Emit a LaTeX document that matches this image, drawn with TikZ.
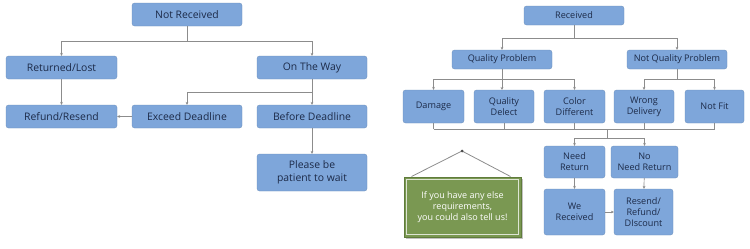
\documentclass[tikz,border=0pt]{standalone}
\usepackage{fontspec}
\setmainfont{Open Sans}
\usetikzlibrary{arrows.meta,shadows}
\definecolor{boxblue}{RGB}{126,166,218}
\definecolor{boxtext}{RGB}{28,42,72}
\definecolor{linegray}{RGB}{140,140,140}
\definecolor{notegreen}{RGB}{122,152,82}
\definecolor{noteedge}{RGB}{96,124,60}

\begin{document}
\begin{tikzpicture}[x=1pt,y=-1pt,
  box/.style={fill=boxblue,draw=boxblue!85!black,line width=0.3pt,rounded corners=2.5pt,
    text=boxtext,align=center,inner sep=0pt,font=\fontsize{10.4}{12.5}\selectfont},
  rbox/.style={box,font=\fontsize{9.1}{11}\selectfont},
  link/.style={draw=linegray,line width=0.7pt},
  arr/.style={link,-{Stealth[length=3pt,width=2.8pt]}}]
\useasboundingbox (0,0) rectangle (750,249);

% Not received
\node[box,minimum width=110,minimum height=23] (notrec) at (187,14.5) {Not Received};
\node[box,minimum width=111,minimum height=23] (retlost) at (61.5,67.5) {Returned/Lost};
\node[box,minimum width=110,minimum height=23] (onway) at (312,67.5) {On The Way};
\node[box,minimum width=111,minimum height=23] (refres) at (61.5,116.5) {Refund/Resend};
\node[box,minimum width=110,minimum height=23] (exceed) at (187,116.5) {Exceed Deadline};
\node[box,minimum width=110,minimum height=23] (before) at (312,116.5) {Before Deadline};
\node[box,minimum width=110,minimum height=37] (patient) at (312,172.5) {Please be\\patient to wait};

\draw[link] (notrec.south) -- (187,41);
\draw[arr] (187,41) -| (retlost.north);
\draw[arr] (187,41) -| (onway.north);
\draw[arr] (retlost) -- (refres);
\draw[link] (onway.south) -- (312,92);
\draw[arr] (312,92) -| (exceed.north);
\draw[arr] (312,92) -- (before.north);
\draw[arr] (exceed) -- (refres);
\draw[arr] (before) -- (patient);

% Received
\node[rbox,minimum width=100,minimum height=19] (rec) at (574,15.5) {Received};
\node[rbox,minimum width=100,minimum height=19] (qp) at (502,59.5) {Quality Problem};
\node[rbox,minimum width=100,minimum height=19] (nqp) at (677,59.5) {Not Quality Problem};
\node[rbox,minimum width=61,minimum height=33] (damage) at (433.5,106.5) {Damage};
\node[rbox,minimum width=60,minimum height=33] (qdelect) at (504,106.5) {Quality\\Delect};
\node[rbox,minimum width=61,minimum height=33] (colordiff) at (574.5,106.5) {Color\\Different};
\node[rbox,minimum width=60,minimum height=33] (wrong) at (644,106.5) {Wrong\\Delivery};
\node[rbox,minimum width=59,minimum height=33] (notfit) at (714.5,106.5) {Not Fit};
\node[rbox,minimum width=61,minimum height=32] (needret) at (574.5,162) {Need\\Return};
\node[rbox,minimum width=67,minimum height=32] (noneed) at (644.5,162) {No\\Need Return};
\node[rbox,minimum width=61,minimum height=46] (werec) at (574.5,212) {We\\Received};
\node[rbox,minimum width=59,minimum height=46] (resend) at (643.5,212) {Resend/\\Refund/\\DIscount};

\draw[link] (rec.south) -- (574,38);
\draw[arr] (574,38) -| (qp.north);
\draw[arr] (574,38) -| (nqp.north);
\draw[link] (qp.south) -- (502,79);
\draw[arr] (502,79) -| (damage.north);
\draw[arr] (502,79) -- (502,90);
\draw[arr] (502,79) -| (colordiff.north);
\draw[link] (nqp.south) -- (677,79);
\draw[arr] (677,79) -| (wrong.north);
\draw[arr] (677,79) -| (notfit.north);
\foreach \n in {damage,qdelect,colordiff,wrong,notfit}
  \draw[link] (\n.south) -- (\n.south |- 0,129);
\draw[link] (damage.south |- 0,129) -- (notfit.south |- 0,129);
\draw[link] (607,129) -- (607,138);
\draw[arr] (607,138) -| (needret.north);
\draw[arr] (607,138) -| (noneed.north);
\draw[arr] (needret) -- (werec);
\draw[arr] (noneed) -- (resend);
\draw[arr] (werec) -- (resend);

% Note
\coordinate (nail) at (462,151);
\node[fill=notegreen,draw=noteedge,line width=1pt,minimum width=117,minimum height=60,
  drop shadow={shadow xshift=2pt,shadow yshift=-2pt,fill=black!40,opacity=0.6},
  text=white,align=center,inner sep=0pt,font=\fontsize{9}{11}\selectfont] (note) at (462.5,207)
  {If you have any else\\requirements,\\you could also tell us!};
\draw[white!75!notegreen,line width=0.6pt] ([shift={(3,3)}]note.north west) rectangle ([shift={(-3,-3)}]note.south east);
\draw[linegray,line width=0.8pt] ([xshift=8]note.north west) -- (nail) -- ([xshift=-11]note.north east);
\fill[black!70] (nail) circle (1.5);
\end{tikzpicture}
\end{document}
